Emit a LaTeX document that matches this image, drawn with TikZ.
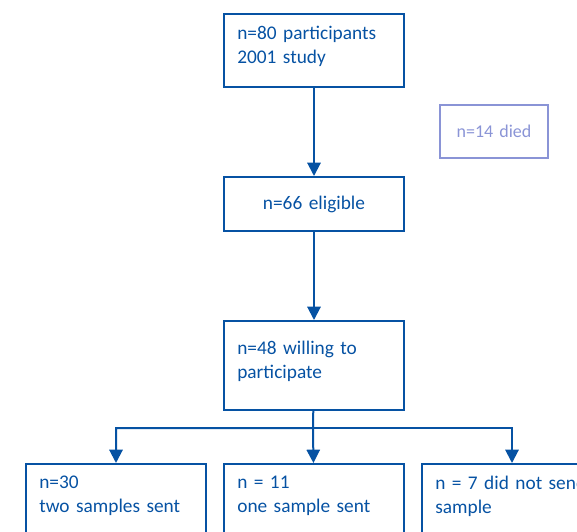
\documentclass[tikz,border=0pt]{standalone}
\usepackage{fontspec}
\setmainfont{Carlito}
\usetikzlibrary{arrows.meta}
\definecolor{flowblue}{RGB}{6,82,163}
\definecolor{diedblue}{RGB}{138,148,214}
\tikzset{
  stage/.style={draw=flowblue, text=flowblue, line width=1.5pt, anchor=north west,
    minimum width=135pt, text width=115pt, inner xsep=10pt, align=left,
    font=\fontsize{14.5}{18}\selectfont},
  flow/.style={draw=flowblue, line width=1.5pt, -{Triangle[width=10pt,length=10pt]}}
}
\begin{document}
\begin{tikzpicture}[x=0.75pt,y=-0.75pt]
  \clip (0,0) rectangle (577,531);
  \node[stage, minimum height=54.75pt, text depth=26.5pt] (all) at (223,13) {n=80 participants\\2001 study};
  \node[stage, minimum height=40.5pt, align=center] (eligible) at (223,176) {n=66 eligible};
  \node[stage, minimum height=66.75pt, text depth=26.5pt] (willing) at (223,320) {n=48 willing to\\participate};
  \node[stage, draw=diedblue, text=diedblue, minimum width=81pt, text width=60pt,
    minimum height=39.75pt, align=center, font=\fontsize{13.5}{16}\selectfont] (died) at (439,104) {n=14 died};
  \node[stage, inner xsep=9.75pt, inner ysep=9pt, text depth=40pt] (two) at (25,463) {n=30\\two samples sent};
  \node[stage, inner xsep=9.75pt, inner ysep=9pt, text depth=40pt] (one) at (223,463) {n = 11\\one sample sent};
  \node[stage, inner xsep=9.75pt, inner ysep=9pt, text depth=40pt] (none) at (421,463) {n = 7 did not send\\sample};
  \coordinate (split) at (313,428);
  \draw[flow] (all) -- (eligible);
  \draw[flow] (eligible) -- (willing);
  \draw[flow] (willing) -- (split) -| (two.north);
  \draw[flow] (split) -- (one);
  \draw[flow] (split) -| (none.north);
\end{tikzpicture}
\end{document}
